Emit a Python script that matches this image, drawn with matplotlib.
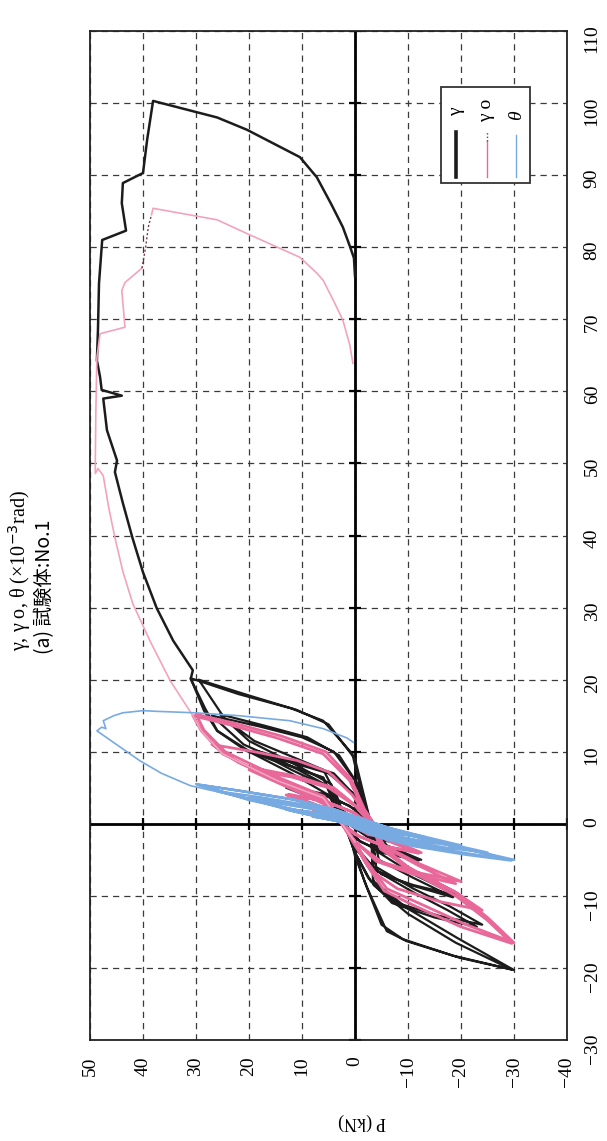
import numpy as np
import matplotlib.pyplot as plt
from matplotlib.patches import Rectangle

# Data: (gamma [x10^-3 rad], P [kN])
# gamma - cyclic part
black_cyc = [
    (0, 0), (1, 4), (2.5, 8), (1.8, 3), (0.5, 0), (-1, -4), (-2.5, -8), (-1.8, -3), (-0.5, 0),
    (1, 3.5), (2.6, 7.5), (1.9, 2.5), (0.4, -0.5), (-1, -3.5), (-2.6, -7.5), (-1.9, -2.5), (-0.4, 0.5),
    (1, 2), (3, 6), (5, 13), (4, 6), (2.5, 1), (0, -3), (-3, -6), (-5, -12.5), (-4, -6), (-2.5, -1), (0, 2),
    (3, 5.5), (5.1, 12), (4, 5), (2, 0), (-3, -5.5), (-5.1, -12), (-4, -5), (-2, 0),
    (0, 2), (4, 5), (7, 12), (10, 20), (8.5, 12), (7, 5), (4, 0), (0, -3), (-4, -4.5), (-7, -11),
    (-10, -19.5), (-8.5, -11), (-7, -5), (-3.5, 0),
    (0, 2), (5, 5), (7.5, 12), (10.2, 19), (8.6, 11), (7, 4), (3.5, -0.5), (0, -3), (-5, -4.5),
    (-7.5, -11), (-10.2, -18.5), (-8.4, -10), (-6.5, -4), (-3, 0),
    (0, 2), (5, 4.5), (8, 12), (11, 21), (15, 27), (13.5, 18), (12, 10), (10, 4), (6, 0), (0, -3),
    (-6, -4), (-9, -11), (-11.5, -18), (-14, -24), (-12.8, -16), (-11, -8), (-8, -3), (-4, 0),
    (0, 2), (5.5, 4.5), (8.5, 12), (11.5, 20), (15.2, 25.5), (13.6, 17), (12, 9), (9.5, 3), (5.5, -0.5),
    (0, -3), (-6.5, -4), (-9.5, -11), (-12, -17.5), (-14.3, -23), (-13, -15), (-11, -7), (-7.5, -2.5), (-4, 0),
    (0, 2), (3, 4), (6.4, 6), (10.1, 20), (12.9, 26), (15.7, 28.5), (20.2, 31), (18, 22), (16, 12),
    (14.3, 6), (9.7, 0.5), (5, -1), (0, -3), (-4, -3.2), (-7.9, -3.4), (-11.7, -9.8), (-15.8, -19.2),
    (-20.3, -30), (-18.6, -19.8), (-16.3, -9.8), (-14.9, -6), (-8.9, -2.3), (-4.5, 0),
    (0, 1.5), (4, 3.5), (7.5, 6), (11.5, 19), (14.5, 24.5), (20, 29.5), (17.8, 20), (15.8, 11),
    (13.8, 5), (9, 0), (0, -3), (-8.5, -3.5), (-12.5, -10), (-16.5, -19), (-20.2, -29.5),
    (-18.3, -18.5), (-16, -9), (-14, -5), (-8, -1.8), (-4, 0),
]
# gamma - monotonic part
black_mono = [
    (-4, 0), (0, 2), (3, 4), (6.4, 6), (10.1, 20.4), (12.9, 26), (16, 28.3), (20.1, 31), (21.3, 30.6),
    (25.4, 34.3), (29.9, 37.4), (34.9, 40), (39.7, 42), (44.5, 43.8), (48.8, 45.3), (50.4, 44.9),
    (54.6, 46.8), (59, 47.5), (59.4, 44), (60.2, 47.8), (62, 48.1), (64.3, 48.7), (68.5, 48.5),
    (75, 48.3), (81, 47.7), (82.3, 43.2), (86.1, 44), (88.9, 43.8), (90.3, 40), (95, 39.2),
    (100.3, 38.1), (98, 26), (96.3, 20.4), (92.5, 10.4), (89.7, 7.2), (86, 4.5), (82.8, 2.3),
    (80, 0.9), (78.5, 0.2), (76, 0),
]
# gamma o - cyclic part
pink_cyc = [
    (0, 0), (0.8, 4), (2, 8), (1.4, 3), (0.3, 0), (-0.8, -4), (-2, -8), (-1.4, -3), (-0.3, 0),
    (0.8, 3.5), (2.1, 7.5), (1.5, 2.5), (0.2, -0.5), (-0.8, -3.5), (-2.1, -7.5), (-1.5, -2.5), (-0.2, 0.5),
    (1, 3), (2.5, 7), (4, 13), (3.2, 6), (1.8, 1), (0, -3), (-2, -6), (-4, -12.5), (-3.2, -6), (-1.8, -1), (0, 2.5),
    (2.4, 6.5), (4.1, 12.5), (3.1, 5.5), (1.5, 0), (-2.3, -6), (-4.1, -12), (-3, -5), (-1.5, 0),
    (0, 2.5), (2.8, 6), (5, 12.5), (7.5, 20), (6.5, 12), (5, 5), (2.5, 0), (0, -3), (-3, -5.5),
    (-5.5, -12), (-8, -20), (-6.8, -12), (-5.3, -5), (-2.5, 0),
    (0, 2.5), (3, 5.5), (5.4, 12.5), (7.8, 19.5), (6.6, 11), (5, 4), (2.3, -0.5), (0, -3), (-3.2, -5.5),
    (-5.8, -12), (-8.3, -19), (-7, -11), (-5.2, -4), (-2.4, 0),
    (0, 2.5), (3.4, 6), (6, 14.5), (8.5, 22), (11, 27), (10, 19), (8.8, 11), (7.2, 5), (4, 0.5),
    (0, -3.2), (-3.5, -4.8), (-6.5, -11), (-9.5, -19), (-12, -24), (-10.8, -16), (-9, -8), (-6.5, -3), (-3, 0),
    (0, 2.5), (3.6, 6), (6, 14.7), (9.7, 25), (12.9, 29), (15, 30.6), (13.8, 24), (11.9, 14.7),
    (9.7, 6), (6, 1), (2, -1.5), (0, -3.5), (-3, -5), (-6, -10), (-9.5, -19), (-13, -25), (-16.5, -30),
    (-14, -21), (-11, -12), (-9, -6), (-5, -2), (-2.5, 0),
    (0, 2.3), (3.8, 5.8), (6.3, 14), (10, 24.5), (13, 28.5), (15.2, 30), (14, 23), (12.2, 14),
    (10, 5.5), (6.3, 0.8), (2, -1.8), (0, -3.6), (-3.3, -5), (-6.4, -10), (-10, -19), (-13.4, -25),
    (-16.6, -29.6), (-14.3, -20), (-11.3, -11), (-9.3, -5.5), (-5.2, -1.8), (-2.5, 0),
]
# gamma o - monotonic part (pink / dark dotted stretch / pink)
pink_mono_a = [
    (-2.5, 0), (0, 2.5), (3.6, 6), (6, 14.7), (9.7, 25), (12.9, 29), (15, 30.6), (19.9, 34.9),
    (25.4, 38.7), (30.5, 41.9), (35, 43.8), (39.7, 45.3), (44, 46.5), (48.3, 47.5), (49.3, 48.5),
    (48.6, 49), (50, 49), (57, 48.9), (64.7, 48.7), (68, 48.1), (68.9, 43.4), (74, 44), (75.1, 43.4),
    (77.1, 40.2),
]
pink_mono_b = [(77.1, 40.2), (80, 39.5), (82.8, 39), (84.5, 38.4)]
pink_mono_c = [
    (84.5, 38.4), (85.4, 38.1), (83.8, 26), (81.9, 20.4), (78.6, 10.4), (76.4, 7.2), (75.4, 6),
    (72.5, 4), (69.9, 2.3), (66.5, 1), (63.9, 0.4),
]
# theta - cyclic part
blue_cyc = [
    (0, 0), (0.5, 4), (1, 8), (0.6, 3), (0.1, 0), (-0.4, -4), (-1, -8), (-0.6, -3), (-0.1, 0),
    (0.6, 5), (1.1, 8), (0.7, 3), (0.2, 0), (-0.4, -3.5), (-1.1, -8), (-0.7, -3), (0, 0),
    (0.7, 5), (1.3, 9), (2, 13), (1.5, 7), (0.8, 1), (0.1, -3), (-0.8, -7), (-1.8, -13), (-1.2, -6),
    (-0.4, -1), (0.3, 3),
    (1.2, 8), (2.1, 13), (1.4, 6), (0.6, 0), (-0.7, -6), (-1.9, -13), (-1.1, -5), (-0.3, 0),
    (0.7, 5), (1.8, 12), (3.5, 20), (2.7, 13), (1.8, 6), (0.9, 0), (-0.3, -5), (-1.6, -12), (-3, -20),
    (-2.3, -12), (-1.3, -5), (-0.2, 0),
    (0.7, 5), (1.9, 12), (3.6, 19.5), (2.7, 12), (1.7, 5), (0.8, -0.5), (-0.3, -5), (-1.7, -12),
    (-3.1, -19.5), (-2.3, -11), (-1.2, -4), (-0.2, 0),
    (0.8, 5), (2, 12), (3.3, 19), (4.5, 26), (3.7, 18), (2.7, 10), (1.7, 4), (0.9, 0), (-0.3, -5),
    (-1.8, -12), (-3, -19), (-4, -25), (-3.3, -17), (-2.3, -9), (-1.2, -3), (-0.2, 0),
    (0.8, 5), (2, 12), (3.3, 20), (5.5, 30), (4.6, 22), (3.4, 12), (2, 4), (1, 0), (0, -4), (-1.5, -10),
    (-3, -18), (-4, -24), (-5, -30), (-4.2, -22), (-3, -12), (-1.8, -5), (-0.5, 0),
    (0.7, 4), (1.9, 11), (3.4, 20), (5.4, 29.5), (4.5, 21), (3.3, 11), (1.9, 3.5), (0.9, -0.5),
    (-0.1, -4.5), (-1.6, -10.5), (-3.1, -18.5), (-4.1, -24.5), (-5.1, -29.5), (-4.3, -21), (-3.1, -11),
    (-1.9, -4.5), (-0.6, 0),
]
# theta - monotonic part
blue_mono = [
    (-0.6, 0), (0.5, 1.5), (1.4, 2.8), (2.5, 12), (3.2, 18.5), (5.3, 31.1), (7, 36.5), (8.75, 40.6),
    (11, 45), (12.9, 48.7), (13.4, 47.8), (13.2, 47), (14.3, 47.5), (15, 45.5), (15.4, 43.8),
    (15.7, 40), (15.6, 37.4), (15.4, 30.2), (15, 22), (14.3, 12.3), (13.2, 6), (11.9, 1.5), (11.3, 0.3),
]

P_ticks = np.arange(-40, 51, 10)
g_ticks = np.arange(-30, 111, 10)

c_black = '#1c1c1c'
c_pink = '#e8689a'
c_pink_l = '#f2a3bd'
c_blue = '#78aae2'

fig = plt.figure(figsize=(6.07, 11.41), dpi=100)
ax = fig.add_axes([90 / 607, 101 / 1141, 477 / 607, 1009 / 1141])

# the chart is drawn turned by 90 degrees: P runs horizontally (reversed), gamma vertically
def draw(pts, **kw):
    a = np.array(pts, dtype=float)
    ax.plot(a[:, 1], a[:, 0], solid_joinstyle='round', **kw)

draw(black_cyc, color=c_black, lw=1.6, zorder=3)
draw(black_mono, color=c_black, lw=1.8, zorder=3)
draw(pink_cyc, color=c_pink, lw=2.0, zorder=4)
draw(pink_mono_a, color=c_pink_l, lw=1.2, zorder=4)
draw(pink_mono_b, color='#7a3a4a', lw=1.0, ls=(0, (1.5, 1.5)), zorder=4)
draw(pink_mono_c, color=c_pink_l, lw=1.2, zorder=4)
draw(blue_cyc, color=c_blue, lw=1.8, zorder=5)
draw(blue_mono, color=c_blue, lw=1.2, zorder=5)

ax.set_xlim(50, -40)
ax.set_ylim(-30, 110)
ax.set_xticks(P_ticks)
ax.set_yticks(g_ticks)
ax.yaxis.tick_right()
ax.tick_params(length=0, labelsize=14)
ax.tick_params(axis='x', labelrotation=90, pad=12)
ax.tick_params(axis='y', labelrotation=90, pad=12)
for lab in ax.get_xticklabels() + ax.get_yticklabels():
    lab.set_fontfamily('Liberation Serif')

ax.grid(True, color='#3a3a3a', lw=0.9, linestyle=(0, (5, 4)), zorder=1)
ax.set_axisbelow(True)
for sp in ax.spines.values():
    sp.set_linewidth(1.3)
    sp.set_color('#222222')

# main axes through the origin with small cross ticks
ax.axvline(0, color='k', lw=2.0, zorder=2)
ax.axhline(0, color='k', lw=2.0, zorder=2)
ax.plot(np.zeros(len(g_ticks)), g_ticks, ls='none', marker='_', ms=9, mew=1.6, color='k', zorder=2)
ax.plot(P_ticks, np.zeros(len(P_ticks)), ls='none', marker='|', ms=9, mew=1.6, color='k', zorder=2)

# legend (turned)
ax.add_patch(Rectangle((-33, 88.9), 16.8, 13.3, facecolor='white', edgecolor='#333333',
                       lw=1.3, zorder=6))
ax.plot([-19.1, -19.1], [89.7, 96.0], color=c_black, lw=2.6, zorder=7)
ax.plot([-24.9, -24.9], [89.7, 94.8], color=c_pink, lw=1.0, zorder=7)
ax.plot([-24.9, -24.9], [94.8, 96.0], color='#7a3a4a', lw=1.0, ls=(0, (1, 1.5)), zorder=7)
ax.plot([-30.4, -30.4], [89.7, 95.6], color=c_blue, lw=1.0, zorder=7)
ax.text(-19.1, 98.8, 'γ', rotation=90, ha='center', va='center', fontsize=14,
        family='Liberation Serif', zorder=7)
ax.text(-24.9, 99.0, 'γ o', rotation=90, ha='center', va='center', fontsize=14,
        family='Liberation Serif', zorder=7)
ax.text(-30.4, 98.3, 'θ', rotation=90, ha='center', va='center', fontsize=14,
        family='Liberation Serif', style='italic', zorder=7)

# captions
fig.text(20 / 607, 1 - 571 / 1141, 'γ, γ o, θ (×10$^{-3}$rad)', rotation=90, ha='center',
         va='center', fontsize=14.5, family='Liberation Serif')
fig.text(45 / 607, 1 - 587 / 1141, '(a) 試験体:No.1', rotation=90, ha='center', va='center',
         fontsize=14, family=['Noto Sans CJK JP', 'DejaVu Sans'])
fig.text(362 / 607, 1 - 1122 / 1141, 'P (kN)', rotation=180, ha='center', va='center',
         fontsize=13, family='Liberation Serif')

fig.savefig('out.png', dpi=100)
